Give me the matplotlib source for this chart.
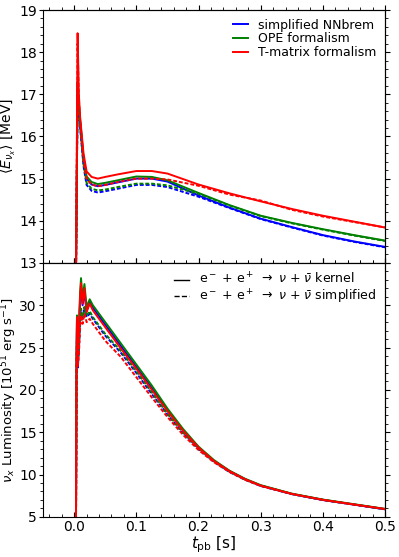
import matplotlib
matplotlib.use("Agg")
import matplotlib.pyplot as plt
from matplotlib.ticker import AutoMinorLocator, MultipleLocator

# mean energy of nu_x (MeV)
t_e = [0.0030, 0.0055, 0.0075, 0.0096, 0.0150, 0.0200, 0.0280, 0.0380, 0.0500, 0.0700,
       0.1000, 0.1250, 0.1500, 0.2000, 0.2500, 0.3000, 0.3500, 0.4000, 0.4500, 0.5000]
e_red_kernel = [12.9, 18.45, 17.0, 16.45, 15.6, 15.17, 15.04, 15.0, 15.04, 15.1,
                15.18, 15.18, 15.12, 14.86, 14.65, 14.46, 14.28, 14.12, 13.98, 13.84]
e_red_simpl = [12.9, 18.2, 16.9, 16.3, 15.45, 15.0, 14.86, 14.82, 14.85, 14.92,
               15.0, 15.0, 14.98, 14.83, 14.62, 14.48, 14.26, 14.1, 13.97, 13.84]
e_green_kernel = [12.9, 17.3, 16.8, 16.4, 15.5, 15.05, 14.92, 14.87, 14.9, 14.96,
                  15.05, 15.04, 14.96, 14.66, 14.37, 14.12, 13.95, 13.8, 13.66, 13.53]
e_green_simpl = [12.9, 17.1, 16.6, 16.25, 15.35, 14.9, 14.76, 14.72, 14.74, 14.8,
                 14.88, 14.88, 14.84, 14.64, 14.36, 14.11, 13.94, 13.79, 13.65, 13.52]
e_blue_kernel = [12.9, 17.2, 16.7, 16.35, 15.45, 15.0, 14.86, 14.82, 14.85, 14.91,
                 15.0, 15.0, 14.93, 14.6, 14.31, 14.05, 13.85, 13.66, 13.51, 13.38]
e_blue_simpl = [12.9, 17.0, 16.5, 16.2, 15.3, 14.85, 14.71, 14.67, 14.7, 14.76,
                14.85, 14.85, 14.8, 14.57, 14.3, 14.04, 13.84, 13.65, 13.5, 13.37]

# luminosity of nu_x (1e51 erg/s)
t_l = [0.0028, 0.0038, 0.0045, 0.0058, 0.0075, 0.0095, 0.0110, 0.0135, 0.0165, 0.0200,
       0.0250, 0.0300, 0.0400, 0.0500, 0.0750, 0.1000, 0.1250, 0.1500, 0.1750, 0.2000,
       0.2250, 0.2500, 0.2750, 0.3000, 0.3500, 0.4000, 0.4500, 0.5000]
l_green_kernel = [2.0, 24.0, 28.8, 24.5, 27.0, 31.5, 33.2, 30.8, 32.5, 29.8,
                  30.7, 30.0, 29.0, 28.0, 25.5, 23.0, 20.5, 17.8, 15.4, 13.3,
                  11.7, 10.45, 9.5, 8.75, 7.75, 7.05, 6.5, 5.95]
l_blue_kernel = [2.0, 23.5, 28.0, 24.0, 26.5, 30.5, 32.0, 30.0, 31.5, 29.3,
                 30.4, 29.7, 28.7, 27.7, 25.2, 22.7, 20.2, 17.6, 15.25, 13.2,
                 11.6, 10.4, 9.45, 8.7, 7.7, 7.0, 6.45, 5.9]
l_red_kernel = [2.0, 23.8, 28.6, 24.2, 26.8, 31.0, 32.6, 30.2, 32.0, 29.2,
                30.2, 29.4, 28.4, 27.4, 24.9, 22.5, 20.0, 17.5, 15.2, 13.2,
                11.6, 10.4, 9.45, 8.7, 7.72, 7.02, 6.47, 5.93]
l_green_simpl = [2.0, 22.0, 26.5, 23.0, 25.0, 28.5, 29.6, 28.6, 29.8, 28.8,
                 29.3, 28.6, 27.6, 26.6, 24.6, 22.2, 19.7, 17.2, 15.0, 13.1,
                 11.55, 10.35, 9.4, 8.7, 7.72, 7.02, 6.47, 5.93]
l_blue_simpl = [2.0, 21.5, 26.0, 22.5, 24.5, 28.0, 29.2, 28.3, 29.7, 28.6,
                29.0, 28.4, 27.4, 26.4, 24.4, 22.0, 19.5, 17.1, 14.9, 13.0,
                11.5, 10.3, 9.38, 8.65, 7.7, 7.0, 6.45, 5.9]
l_red_simpl = [2.0, 21.0, 25.5, 22.8, 24.0, 27.5, 28.8, 27.8, 29.0, 28.0,
               28.4, 27.8, 26.8, 25.8, 23.9, 21.5, 19.1, 16.8, 14.7, 12.9,
               11.45, 10.3, 9.38, 8.65, 7.7, 7.0, 6.45, 5.92]

labels = ["simplified NNbrem", "OPE formalism", "T-matrix formalism"]
colors = ["blue", "green", "red"]

fig = plt.figure(figsize=(3.99, 5.57), dpi=100)
ax1 = fig.add_axes([0.108, 0.528, 0.857, 0.454])
ax2 = fig.add_axes([0.108, 0.072, 0.857, 0.456], sharex=ax1)

e_kernel = [e_blue_kernel, e_green_kernel, e_red_kernel]
e_simpl = [e_blue_simpl, e_green_simpl, e_red_simpl]
for c, lab, yk, ys in zip(colors, labels, e_kernel, e_simpl):
    ax1.plot(t_e, yk, color=c, lw=1.4, label=lab)
    ax1.plot(t_e, ys, color=c, lw=1.4, ls=(0, (2, 1)))

l_kernel = [l_blue_kernel, l_green_kernel, l_red_kernel]
l_simpl = [l_blue_simpl, l_green_simpl, l_red_simpl]
for c, yk, ys in zip(colors, l_kernel, l_simpl):
    ax2.plot(t_l, yk, color=c, lw=1.4)
    ax2.plot(t_l, ys, color=c, lw=1.4, ls=(0, (2, 1)))

ax2.plot([], [], color="black", lw=1.0,
         label=r"e$^-$ + e$^+$ $\rightarrow$ $\nu$ + $\bar{\nu}$ kernel")
ax2.plot([], [], color="black", lw=1.0, ls="--",
         label=r"e$^-$ + e$^+$ $\rightarrow$ $\nu$ + $\bar{\nu}$ simplified")

ax1.set_xlim(-0.05, 0.5)
ax1.set_ylim(13, 19)
ax1.set_yticks([13, 14, 15, 16, 17, 18, 19])
ax2.set_ylim(5, 35)
ax2.set_yticks([5, 10, 15, 20, 25, 30])
ax2.set_xticks([0.0, 0.1, 0.2, 0.3, 0.4, 0.5])

for ax in (ax1, ax2):
    ax.xaxis.set_minor_locator(AutoMinorLocator())
    ax.yaxis.set_minor_locator(AutoMinorLocator())
    ax.tick_params(axis="x", which="both", direction="in", labelsize=10, pad=2.5)
    ax.tick_params(axis="y", which="both", direction="out", labelsize=10, pad=1.5)
    ax.tick_params(axis="y", which="major", length=3)
    ax.tick_params(axis="y", which="minor", length=2)
    top = ax.secondary_xaxis("top")
    top.xaxis.set_major_locator(MultipleLocator(0.1))
    top.xaxis.set_minor_locator(AutoMinorLocator())
    top.tick_params(which="both", direction="out", labeltop=False)
    right = ax.secondary_yaxis("right")
    right.yaxis.set_major_locator(MultipleLocator(1 if ax is ax1 else 5))
    right.yaxis.set_minor_locator(AutoMinorLocator())
    right.tick_params(which="both", direction="out", labelright=False)

ax1.tick_params(axis="x", labelbottom=False)
ax1.set_ylabel(r"$\langle E_{\nu_x} \rangle$ [MeV]", fontsize=10, labelpad=1)
ax2.set_ylabel(r"$\nu_x$ Luminosity [10$^{51}$ erg s$^{-1}$]", fontsize=9.5, labelpad=0)
ax2.set_xlabel(r"$t_{\rm pb}$ [s]", fontsize=11, labelpad=0)

ax1.legend(loc="upper right", frameon=False, fontsize=9, handlelength=1.2,
           labelspacing=0.05, borderaxespad=0.3)
ax2.legend(loc="upper right", frameon=False, fontsize=9, handlelength=1.2,
           labelspacing=0.05, borderaxespad=0.3)

fig.savefig("out.png", dpi=100)
